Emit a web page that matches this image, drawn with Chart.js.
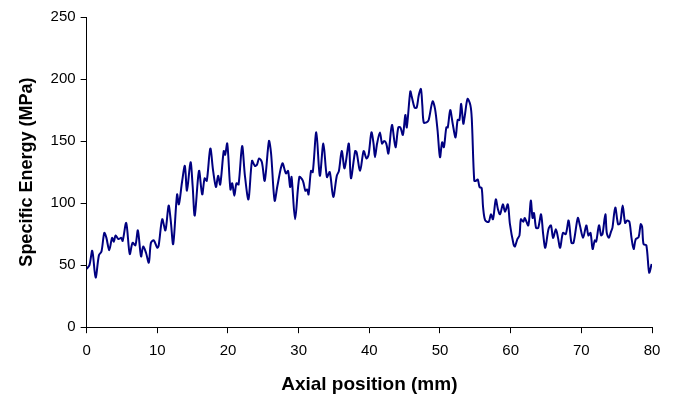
<!DOCTYPE html>
<html>
<head>
<meta charset="utf-8">
<script src="https://cdn.jsdelivr.net/npm/chart.js@4.4.1/dist/chart.umd.min.js"></script>
<style>
  html, body { margin: 0; padding: 0; background: #fff; }
  #wrap { width: 677px; height: 396px; }
</style>
</head>
<body>
<div id="wrap"><canvas id="grafico" width="677" height="396"></canvas></div>
<script>
// axial position (mm) and specific energy (MPa)
const posicao = [
  0, 0.4, 0.8, 1.27, 1.74, 2.1, 2.5, 2.8, 3.2, 3.6, 3.85, 4.1, 4.5, 4.9, 5.1, 5.6, 6.1, 6.5, 6.9, 7.25,
  7.7, 8.0, 8.4, 8.8, 9.1, 9.5, 10.0, 10.2, 10.7, 11.15, 11.6, 11.9, 12.25, 12.8, 13.05, 13.5, 13.9, 14.2, 14.7, 15.0,
  15.3, 15.9, 16.35, 16.7, 17.0, 17.5, 17.9, 18.3, 18.6, 18.9, 19.4, 19.6, 19.9, 20.35, 20.6, 20.9, 21.2, 21.5, 22.0, 22.4,
  22.9, 23.4, 23.8, 24.1, 24.4, 24.8, 25.2, 25.8, 26.1, 26.6, 27.0, 27.7, 28.2, 28.5, 28.8, 29.0, 29.5, 30.1, 30.6, 30.95,
  31.2, 31.4, 31.75, 32.0, 32.5, 33.0, 33.5, 34.0, 34.4, 34.9, 35.4, 35.7, 36.1, 36.5, 37.1, 37.4, 38.0, 38.2, 38.7, 39.2,
  39.6, 39.9, 40.3, 40.6, 40.8, 41.1, 41.5, 41.8, 42.1, 42.4, 42.7, 43.2, 43.7, 44.1, 44.4, 44.75, 45.1, 45.3, 45.8, 46.0,
  46.4, 46.7, 47.0, 47.3, 47.5, 47.7, 48.1, 48.4, 48.95, 49.3, 49.65, 50.0, 50.3, 50.55, 50.9, 51.1, 51.45, 51.8, 52.2, 52.5,
  52.75, 53.0, 53.3, 53.5, 53.9, 54.3, 54.5, 54.85, 55.1, 55.35, 55.6, 55.9, 56.1, 56.4, 56.9, 57.2, 57.5, 57.9, 58.2, 58.5,
  58.9, 59.2, 59.6, 59.9, 60.4, 60.6, 60.95, 61.25, 61.45, 61.8, 62.0, 62.5, 62.85, 63.1, 63.3, 63.6, 63.9, 64.3, 64.6, 64.9,
  65.35, 65.7, 66.0, 66.4, 66.7, 67.0, 67.4, 67.8, 68.2, 68.6, 68.9, 69.5, 69.8, 70.25, 70.7, 71.0, 71.3, 71.6, 71.9, 72.1,
  72.5, 72.8, 73.0, 73.4, 73.6, 73.9, 74.2, 74.4, 74.8, 75.2, 75.5, 75.85, 76.2, 76.5, 76.8, 77.1, 77.4, 77.7, 78.1, 78.4,
  78.6, 78.8, 79.2, 79.6, 79.95
];
const energia = [
  47, 50, 61.5, 40, 58, 61, 76, 72, 62, 72, 69, 74, 71, 72, 69.6, 84, 59, 68, 66, 78,
  57, 65, 60, 52, 68, 70, 64, 66, 87, 78, 98, 86, 67, 107, 99, 117, 130, 110, 133, 114,
  90, 126, 107, 120, 118, 144, 126, 113, 122, 115, 142, 139, 148, 111, 116, 106, 116, 115, 146, 122,
  103, 134, 130, 131, 136, 133, 118, 150, 140, 102, 114, 132, 124, 126, 113, 121, 87, 121, 118, 110,
  111, 107, 126, 125, 157, 122, 148, 121, 125, 105, 122, 126, 142, 128, 148, 120, 142, 141, 126, 142,
  136, 139, 157, 148, 137, 148, 157, 148, 150, 148, 140, 163, 145, 161, 161, 155, 171, 161, 190, 186,
  177, 177, 187, 192, 179, 165, 165, 167, 182, 176, 159, 137, 149, 145, 161, 161, 175, 164, 153, 167,
  167, 180, 164, 170, 184, 179, 168, 118, 118, 119, 113, 112, 96.5, 86, 85, 91, 87, 103, 95, 91,
  99, 93, 99, 83, 67, 65, 71, 74, 87, 85, 88, 82, 102, 88, 92, 80, 80, 91, 75, 64,
  79, 82, 72, 79, 72, 64, 76, 75, 86, 68, 68, 88, 82, 72, 82, 74, 76, 63, 70, 69,
  82, 74, 75, 91, 76, 72, 77, 80, 96.5, 83, 84, 98, 84, 86, 85, 72, 63, 71, 72.5, 83,
  81, 67, 66, 44, 51
];
const ticksX = [0, 10, 20, 30, 40, 50, 60, 70, 80];
const ticksY = [0, 50, 100, 150, 200, 250];

const pontos = posicao.map((p, i) => ({ x: p, y: energia[i] }));

Chart.defaults.font.family = '"Liberation Sans", Arial, sans-serif';
Chart.defaults.color = '#000';

new Chart(document.getElementById('grafico').getContext('2d'), {
  type: 'line',
  data: {
    datasets: [{
      data: pontos,
      borderColor: '#000080',
      borderWidth: 2,
      pointRadius: 0,
      tension: 0.3,
      fill: false
    }]
  },
  options: {
    responsive: false,
    animation: false,
    layout: { padding: { top: 17, right: 25, bottom: 0, left: 12 } },
    plugins: { legend: { display: false }, tooltip: { enabled: false } },
    scales: {
      x: {
        type: 'linear',
        min: 0,
        max: 80,
        afterBuildTicks: (ax) => { ax.ticks = ticksX.map(v => ({ value: v })); },
        ticks: { font: { size: 15 }, padding: 9, maxRotation: 0 },
        grid: { drawOnChartArea: false, color: '#000', tickLength: 6 },
        border: { color: '#000', width: 1 },
        title: { display: true, text: 'Axial position (mm)', font: { size: 19, weight: 'bold' }, padding: { top: 4, bottom: 0 } }
      },
      y: {
        min: 0,
        max: 250,
        afterBuildTicks: (ax) => { ax.ticks = ticksY.map(v => ({ value: v })); },
        ticks: { font: { size: 15 }, padding: 5 },
        grid: { drawOnChartArea: false, color: '#000', tickLength: 6 },
        border: { color: '#000', width: 1 },
        title: { display: true, text: 'Specific Energy (MPa)', font: { size: 18, weight: 'bold' }, padding: { bottom: 8 } }
      }
    }
  }
});
</script>
</body>
</html>
